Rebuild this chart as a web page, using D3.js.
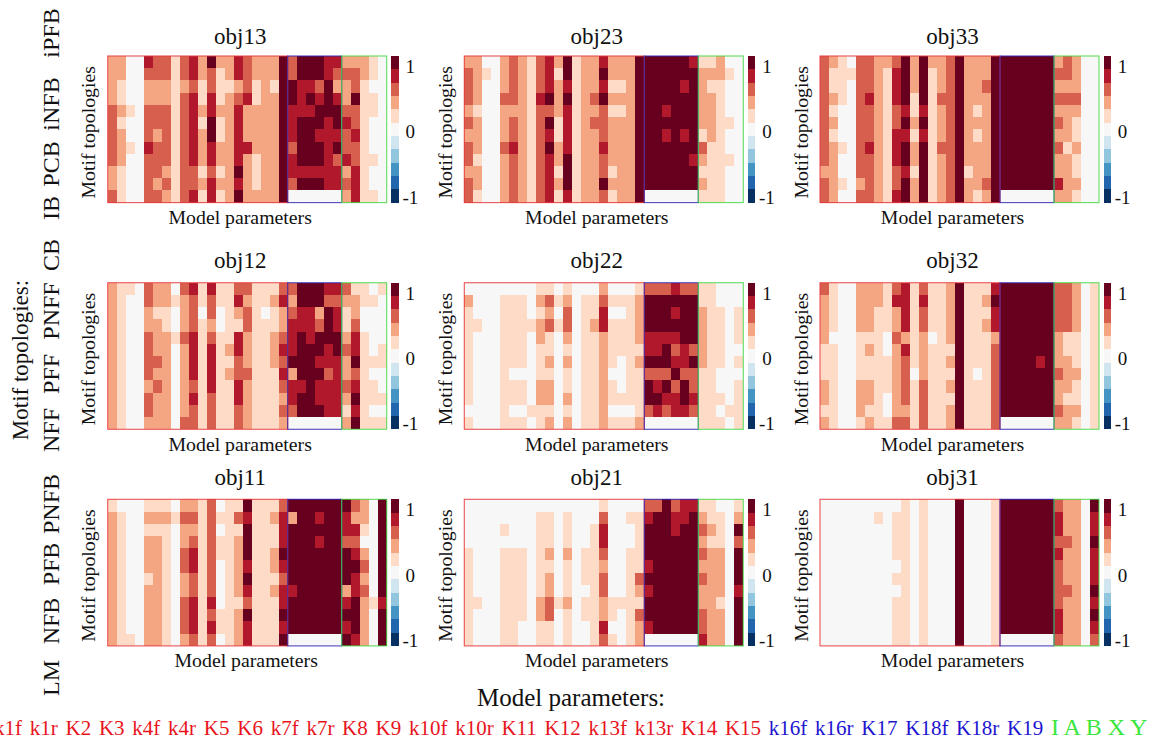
<!DOCTYPE html>
<html>
<head>
<meta charset="utf-8">
<script src="https://cdn.jsdelivr.net/npm/d3@7"></script>
<style>
  body { margin: 0; background: #fff; }
  text { font-family: "Liberation Serif", serif; fill: #111; }
</style>
</head>
<body>
<div id="chart"></div>
<script>
// names along the bottom of the figure, in column order
const redParams = ["k1f","k1r","K2","K3","k4f","k4r","K5","K6","k7f","k7r","K8","K9","k10f","k10r","K11","K12","k13f","k13r","K14","K15"];
const blueParams = ["k16f","k16r","K17","K18f","K18r","K19"];
const greenParams = ["I","A","B","X","Y"];
const topologies = ["LM","NFB","PFB","PNFB","NFF","PFF","PNFF","CB","IB","PCB","iNFB","iPFB"];
const barTicks = [-1, 0, 1];

// cell values, in steps of 0.2 (5 means 1.0)
const obj13 = [
  [2,2,0,0,4,3,3,1,3,4,2,5,2,2,4,3,2,2,2,5,3,5,5,5,4,4,2,2,2,1,0],
  [2,2,0,0,3,3,3,1,3,4,2,3,1,2,4,3,2,2,2,5,3,5,5,5,4,3,3,3,2,1,0],
  [2,1,0,0,2,2,2,1,2,3,1,3,1,1,2,3,1,2,1,5,5,4,4,3,5,2,2,3,1,0,0],
  [2,1,0,0,2,2,2,1,3,4,1,4,1,2,3,4,1,2,2,5,5,4,5,4,5,4,2,5,1,1,0],
  [3,2,1,0,3,3,3,1,3,4,2,4,2,2,4,2,2,2,2,5,4,4,4,5,5,5,3,3,1,1,0],
  [3,1,0,0,3,3,3,1,3,4,1,5,1,2,4,2,2,2,2,5,4,5,5,5,4,5,4,3,1,0,0],
  [3,2,0,0,3,2,3,1,3,4,2,5,1,2,4,2,2,2,2,5,4,5,5,4,4,4,3,4,1,0,0],
  [3,2,1,0,4,3,3,1,3,4,2,4,2,2,4,4,2,2,2,5,3,5,5,5,4,5,3,3,1,0,0],
  [3,2,0,0,3,3,3,1,3,4,2,4,2,2,4,2,1,2,2,5,4,5,5,5,4,3,4,3,1,1,0],
  [2,1,0,0,3,3,2,1,3,3,1,3,1,2,5,2,1,2,2,5,4,4,4,4,4,4,2,4,1,0,0],
  [2,1,0,0,3,2,3,1,3,3,2,4,2,2,4,2,1,2,2,5,3,5,5,5,4,4,3,4,1,0,0],
  [3,1,0,0,3,3,2,1,3,4,1,4,1,2,5,2,2,2,2,5,0,0,0,0,0,0,2,4,1,1,0]
];
const obj23 = [
  [2,2,0,0,2,3,2,1,3,4,2,5,1,2,2,4,2,2,2,5,5,5,5,5,5,4,1,1,2,0,0],
  [3,2,1,0,2,3,2,1,3,4,1,5,1,2,2,5,2,2,2,5,5,5,5,5,5,5,2,2,2,1,0],
  [3,2,0,0,2,3,2,1,3,4,2,4,1,2,2,4,1,1,2,5,5,5,5,5,4,5,2,1,1,0,0],
  [3,2,0,0,3,3,2,1,4,5,2,5,1,2,3,5,2,2,2,5,5,5,5,5,5,5,2,2,1,0,0],
  [2,1,0,0,2,2,2,1,3,3,2,4,1,2,2,3,1,1,2,5,5,5,4,5,5,5,2,2,1,0,0],
  [3,2,0,0,2,3,2,1,3,5,1,4,1,2,3,3,2,2,2,5,5,5,5,5,5,5,2,2,1,1,0],
  [2,2,0,0,2,3,2,1,3,4,1,4,1,2,2,3,2,2,2,5,5,5,4,5,4,5,1,2,1,0,0],
  [3,2,0,0,3,4,2,1,3,5,2,4,1,2,2,4,2,2,2,5,5,5,5,5,5,5,3,1,1,0,0],
  [3,1,0,0,2,3,2,1,3,4,2,5,1,2,2,3,2,2,2,5,5,5,5,5,5,4,2,1,1,1,0],
  [2,2,0,0,2,3,2,1,3,4,1,5,1,2,2,3,1,2,2,5,5,5,5,5,5,5,1,1,1,0,0],
  [3,2,0,0,2,3,2,1,3,4,2,5,1,2,2,5,2,2,2,5,5,5,5,5,5,5,2,1,1,0,0],
  [3,1,0,0,2,3,2,1,3,4,1,4,1,2,2,3,1,2,2,5,0,0,0,0,0,0,1,1,1,0,0]
];
const obj33 = [
  [3,2,1,0,3,3,2,2,3,5,2,5,2,2,3,5,2,2,2,5,5,5,5,5,5,5,2,3,2,0,0],
  [3,1,1,1,3,3,2,1,4,5,2,5,1,2,3,5,2,2,2,5,5,5,5,5,5,5,3,3,2,0,0],
  [3,1,1,0,3,3,2,1,4,5,2,5,1,2,3,5,2,2,3,5,5,5,5,5,5,5,2,2,2,0,0],
  [3,2,1,0,3,4,2,1,4,5,1,5,1,3,3,5,2,2,2,5,5,5,5,5,5,5,3,3,3,0,0],
  [3,1,0,0,3,3,2,1,3,4,1,4,1,2,3,5,2,1,2,5,5,5,5,5,5,5,2,2,2,0,0],
  [3,2,0,0,3,3,2,1,3,5,2,5,1,2,3,5,2,2,2,5,5,5,5,5,5,5,3,2,1,0,0],
  [3,1,0,0,3,3,2,1,4,4,1,4,1,2,3,5,2,1,2,5,5,5,5,5,5,5,2,2,1,0,0],
  [3,2,1,0,3,4,2,1,4,5,2,5,1,3,3,5,2,2,2,5,5,5,5,5,5,5,3,1,2,0,0],
  [3,2,0,0,3,3,2,1,4,5,2,5,1,2,3,5,2,2,2,5,5,5,5,5,5,5,2,2,1,0,0],
  [2,2,0,0,3,3,2,1,3,4,1,5,1,2,3,5,1,2,2,5,5,5,5,5,5,5,2,2,1,0,0],
  [3,2,1,0,2,3,2,1,3,5,2,5,1,2,3,5,2,2,3,5,5,5,5,5,5,5,4,2,2,0,0],
  [3,2,0,0,3,3,2,1,4,5,2,5,1,2,3,5,2,1,2,5,0,0,0,0,0,0,2,2,1,0,0]
];
const obj12 = [
  [2,1,1,0,3,2,2,0,3,4,1,4,1,1,3,3,1,1,1,3,3,5,5,5,4,4,3,1,1,0,1],
  [2,1,0,0,3,2,2,1,2,3,1,3,1,1,4,2,1,1,2,4,2,5,5,5,3,3,2,2,1,1,0],
  [2,1,0,0,2,1,1,0,2,3,0,3,0,1,2,3,1,0,1,2,3,4,4,2,5,4,1,2,0,0,0],
  [2,1,0,0,2,2,1,0,2,3,1,2,0,1,1,3,1,1,1,2,4,4,4,3,5,4,1,3,0,0,0],
  [2,1,0,0,3,2,2,1,3,4,1,3,1,1,4,2,1,1,2,3,4,5,4,5,5,5,2,4,1,0,0],
  [2,1,0,0,3,2,2,0,2,4,1,4,1,2,4,2,1,1,2,4,4,5,5,5,4,5,3,4,1,0,1],
  [2,1,0,0,3,3,2,0,2,4,1,4,1,1,3,2,1,1,2,3,5,5,5,4,4,4,2,5,1,1,1],
  [2,1,0,0,3,2,2,0,2,4,1,4,1,2,3,3,1,1,1,4,2,5,5,5,3,4,2,3,1,0,0],
  [2,1,0,0,2,3,2,0,2,3,1,4,1,1,4,2,1,1,1,3,4,4,5,4,4,4,3,4,1,1,0],
  [2,1,0,0,3,2,2,0,2,4,1,3,1,1,4,2,1,1,1,2,4,5,5,4,4,4,2,5,1,1,1],
  [2,1,0,0,3,2,2,0,2,3,1,3,1,1,3,2,1,1,1,3,3,5,5,5,4,4,1,4,1,0,0],
  [2,1,0,0,2,2,2,0,3,3,1,3,1,1,3,2,1,1,1,2,0,0,0,0,0,0,2,5,1,1,1]
];
const obj22 = [
  [0,0,0,0,0,0,0,0,1,1,0,1,0,0,0,2,0,0,0,1,3,3,3,4,3,3,1,1,0,0,0],
  [2,0,0,0,1,1,1,0,2,3,1,2,0,1,1,3,1,1,1,2,5,5,5,5,5,5,1,1,0,0,0],
  [1,0,0,0,1,1,1,0,1,2,0,3,0,1,1,4,0,0,1,2,5,5,5,4,5,5,2,1,1,0,1],
  [1,1,0,0,1,1,1,1,2,3,1,3,0,1,2,4,1,1,1,2,5,5,5,5,5,5,2,1,1,0,1],
  [1,0,0,0,1,1,1,0,2,1,0,2,0,1,1,2,1,1,1,2,4,4,4,4,5,5,2,1,1,0,1],
  [1,0,0,0,1,1,1,0,1,1,0,1,0,1,1,2,1,1,1,1,4,4,5,3,4,3,2,1,1,0,0],
  [1,0,0,0,1,1,1,0,1,2,0,2,0,1,1,2,1,0,1,2,5,5,5,4,4,5,2,1,1,0,1],
  [1,0,0,0,1,0,0,0,1,1,0,1,0,1,1,2,0,0,1,1,3,3,3,5,3,3,1,1,0,0,0],
  [1,0,0,0,1,1,1,0,2,2,0,1,0,1,1,2,1,0,1,1,5,4,5,3,5,3,1,1,0,0,1],
  [1,0,0,0,1,1,1,0,2,2,0,2,0,1,1,2,1,1,1,1,5,5,4,4,5,4,1,1,1,0,1],
  [0,0,0,0,1,0,0,1,1,1,0,1,0,1,1,2,0,0,0,1,3,4,3,4,4,3,1,1,0,1,1],
  [1,0,0,0,1,1,1,0,1,2,0,2,0,1,1,2,1,1,1,2,0,0,0,0,0,0,1,1,1,0,1]
];
const obj32 = [
  [3,1,0,0,2,2,2,1,3,4,1,3,1,1,2,5,1,1,1,4,5,5,5,5,5,5,3,3,2,0,1],
  [2,1,0,0,2,2,2,1,4,4,1,4,1,1,2,5,1,1,2,5,5,5,5,5,5,5,3,3,2,0,1],
  [2,1,0,0,2,2,1,1,2,4,1,3,1,1,2,5,1,1,1,4,5,5,5,5,5,5,3,3,2,0,1],
  [2,1,0,0,2,2,1,1,2,4,1,3,1,1,2,5,1,1,2,4,5,5,5,5,5,5,3,3,2,0,1],
  [2,0,0,0,1,1,1,0,3,2,1,2,0,1,2,5,1,1,1,2,5,5,5,5,5,5,2,1,1,0,1],
  [1,1,0,0,1,2,1,0,2,4,1,2,1,1,1,5,1,1,1,3,5,5,5,5,5,5,2,1,1,0,1],
  [1,1,0,0,1,1,1,1,2,3,1,2,1,1,2,5,1,1,1,3,5,5,5,5,4,5,2,2,1,0,1],
  [1,1,0,0,1,1,1,1,2,3,0,2,1,1,1,5,1,0,1,3,5,5,5,5,5,5,3,2,2,0,1],
  [2,1,0,0,2,2,1,1,2,3,1,3,1,1,2,5,1,1,1,3,5,5,5,5,5,5,2,2,1,0,1],
  [2,1,0,0,2,2,1,0,2,3,1,3,1,1,1,5,1,1,1,3,5,5,5,5,5,5,2,1,1,0,1],
  [1,1,0,0,2,1,1,0,2,2,1,3,1,1,2,5,1,1,1,3,5,5,5,5,5,5,3,2,2,0,1],
  [2,1,0,0,1,2,1,1,3,3,1,3,1,1,2,5,1,1,1,3,0,0,0,0,0,0,2,2,1,0,1]
];
const obj11 = [
  [1,0,0,0,1,1,1,0,2,2,1,3,0,1,1,5,1,1,1,3,5,5,5,5,5,5,5,3,2,0,5],
  [2,1,0,0,2,2,2,1,3,3,1,3,1,1,3,4,1,1,2,4,2,5,5,4,5,5,4,2,2,0,5],
  [2,1,0,0,1,1,1,0,2,2,1,3,0,1,1,5,1,1,1,4,5,5,5,5,5,5,4,4,1,0,5],
  [2,1,0,0,2,2,1,0,2,3,1,3,1,1,2,5,1,1,1,4,5,5,5,4,5,5,3,3,0,0,5],
  [2,1,0,0,2,2,1,0,3,4,1,3,1,1,2,5,1,1,2,5,5,5,5,5,5,5,5,4,2,0,5],
  [2,1,0,0,2,2,1,0,3,4,1,3,0,1,2,4,1,1,2,4,5,5,5,5,5,5,5,5,3,0,5],
  [2,1,0,0,1,2,1,0,2,3,1,3,0,1,2,5,1,1,1,3,5,5,5,5,5,5,5,4,2,0,5],
  [2,1,0,0,2,2,1,0,2,3,1,3,0,1,2,4,1,1,2,4,4,5,5,5,5,5,2,4,3,0,5],
  [2,1,0,0,2,2,1,0,3,4,1,4,0,1,1,3,1,1,1,4,5,5,5,5,5,5,4,5,2,1,4],
  [2,1,0,0,2,2,1,0,3,4,1,3,1,1,2,5,1,1,1,5,5,5,5,5,5,5,5,5,2,0,5],
  [2,1,0,0,2,2,1,0,3,4,1,4,1,1,2,4,1,1,1,4,5,5,5,5,5,5,4,5,2,0,5],
  [2,1,1,0,2,2,1,0,2,3,1,3,0,1,2,4,1,1,1,5,0,0,0,0,0,0,5,4,2,0,5]
];
const obj21 = [
  [0,0,0,0,0,0,0,0,0,0,0,0,0,0,0,1,0,0,0,0,3,3,5,3,4,4,1,1,0,0,1],
  [0,0,0,0,0,0,0,0,1,1,0,1,0,0,0,3,0,0,1,1,4,5,5,4,4,5,2,1,1,0,2],
  [0,0,0,0,1,0,0,0,1,1,0,1,0,0,1,4,0,0,0,1,5,5,5,4,5,5,3,2,1,0,5],
  [0,0,0,0,0,0,0,0,1,1,0,1,0,0,1,4,0,0,0,1,5,5,5,5,5,5,2,1,1,0,3],
  [1,0,0,0,1,1,1,0,1,2,0,2,0,1,1,3,0,0,1,1,5,5,5,5,5,5,3,2,2,0,5],
  [1,0,0,0,1,1,1,0,1,1,0,1,0,1,1,2,0,0,1,1,4,5,5,5,5,5,2,2,2,0,5],
  [1,0,0,0,1,1,1,0,1,2,0,1,0,1,1,3,0,0,1,3,5,5,5,5,5,5,3,2,2,0,5],
  [1,0,0,0,1,1,1,0,1,2,0,1,0,0,1,3,0,0,1,2,4,5,5,5,5,5,2,2,2,0,4],
  [1,1,0,0,1,1,1,0,2,3,1,2,0,1,1,2,1,1,1,1,5,5,5,5,5,5,2,2,1,0,5],
  [1,0,0,0,1,1,1,0,2,3,0,1,0,1,1,2,1,0,1,3,5,5,5,5,5,5,3,2,2,0,5],
  [1,0,0,0,1,1,0,0,1,1,0,1,0,0,1,4,0,0,1,2,4,5,5,5,5,5,3,2,2,0,5],
  [1,0,0,0,1,1,0,0,1,1,0,1,0,0,1,3,1,0,1,2,0,0,0,0,0,0,4,2,2,0,5]
];
const obj31 = [
  [0,0,0,0,0,0,0,0,0,1,0,1,0,0,0,5,0,0,0,1,5,5,5,5,5,5,3,2,2,0,5],
  [0,0,0,0,0,0,1,0,1,1,0,1,0,0,0,5,0,0,0,1,5,5,5,5,5,5,4,2,2,0,4],
  [0,0,0,0,0,0,0,0,1,1,0,1,0,0,0,5,0,0,0,1,5,5,5,5,5,5,4,2,2,0,4],
  [0,0,0,0,0,0,0,0,1,1,0,1,0,0,0,5,0,0,0,1,5,5,5,5,5,5,3,3,2,0,5],
  [0,0,0,0,0,0,0,0,1,1,0,1,0,0,0,5,0,0,0,1,5,5,5,5,5,5,4,2,2,0,4],
  [0,0,0,0,0,0,0,0,0,1,0,1,0,0,0,5,0,0,0,1,5,5,5,5,5,5,3,2,2,0,4],
  [0,0,0,0,0,0,0,0,1,1,0,1,0,0,0,5,0,0,0,1,5,5,5,5,5,5,3,2,2,0,4],
  [0,0,0,0,0,0,0,0,0,1,0,1,0,0,0,5,0,0,0,1,5,5,5,5,5,5,3,3,2,0,5],
  [0,0,0,0,0,0,0,0,1,1,0,1,0,0,0,5,0,0,0,1,5,5,5,5,5,5,3,2,2,0,4],
  [0,0,0,0,0,0,0,0,1,1,0,1,0,0,0,5,0,0,0,1,5,5,5,5,5,5,4,2,2,0,5],
  [0,0,0,0,0,0,0,0,1,1,0,1,0,0,0,5,0,0,0,1,5,5,5,5,5,5,4,2,2,0,4],
  [0,0,0,0,0,0,0,0,1,1,0,1,0,0,0,5,0,0,0,1,0,0,0,0,0,0,3,2,2,0,3]
];

const width = 1154, height = 742;
const params = redParams.concat(blueParams, greenParams);

// panels read left to right, top to bottom
const panels = [
  { name: "obj13", data: obj13, col: 0, row: 0 },
  { name: "obj23", data: obj23, col: 1, row: 0 },
  { name: "obj33", data: obj33, col: 2, row: 0 },
  { name: "obj12", data: obj12, col: 0, row: 1 },
  { name: "obj22", data: obj22, col: 1, row: 1 },
  { name: "obj32", data: obj32, col: 2, row: 1 },
  { name: "obj11", data: obj11, col: 0, row: 2 },
  { name: "obj21", data: obj21, col: 1, row: 2 },
  { name: "obj31", data: obj31, col: 2, row: 2 }
];

const panelX = [107.7, 464.3, 820];
const panelY = [56, 282.7, 499.3];
const titleGap = [12, 14.5, 14];
const panelW = 279, panelH = 146.6;
const labelSize = 19.8;

const svg = d3.select("#chart").append("svg")
  .attr("width", width)
  .attr("height", height)
  .style("display", "block");

// the bar is a bit longer above 1 than below -1
const barDomain = [-1.085, 1.16];
const color = d3.scaleQuantize()
  .domain(barDomain)
  .range(d3.schemeRdBu[11].slice().reverse());

const x = d3.scaleBand().domain(d3.range(params.length)).range([0, panelW]);
const y = d3.scaleBand().domain(d3.range(topologies.length)).range([0, panelH]);
const barY = d3.scaleLinear().domain(barDomain).range([panelH, 0]);
const barSteps = color.range().map(c => color.invertExtent(c));

panels.forEach(p => {
  const g = svg.append("g")
    .attr("transform", `translate(${panelX[p.col]},${panelY[p.row]})`);

  g.selectAll(".line")
    .data(p.data)
    .enter().append("g")
    .attr("transform", (d, i) => `translate(0,${y(i)})`)
    .selectAll("rect")
    .data(d => d)
    .enter().append("rect")
    .attr("x", (d, i) => x(i))
    .attr("width", x.bandwidth())
    .attr("height", y.bandwidth())
    .attr("shape-rendering", "crispEdges")
    .attr("fill", d => color(d / 5));

  // boxes around the three parameter groups
  const groups = [
    { from: 0, n: redParams.length, stroke: "#e8383c" },
    { from: redParams.length, n: blueParams.length, stroke: "#3428b4" },
    { from: redParams.length + blueParams.length, n: greenParams.length, stroke: "#45d945" }
  ];
  g.selectAll(".box")
    .data(groups)
    .enter().append("rect")
    .attr("class", "box")
    .attr("x", d => x(d.from))
    .attr("width", d => x.step() * d.n)
    .attr("height", panelH)
    .attr("fill", "none")
    .attr("stroke", d => d.stroke)
    .attr("stroke-opacity", 0.85)
    .attr("stroke-width", 1.1);

  // colour bar
  const bar = g.append("g").attr("transform", `translate(${panelW + 4.6},0)`);
  bar.selectAll("rect")
    .data(barSteps)
    .enter().append("rect")
    .attr("y", d => barY(d[1]))
    .attr("width", 7.5)
    .attr("height", d => barY(d[0]) - barY(d[1]))
    .attr("shape-rendering", "crispEdges")
    .attr("fill", d => color((d[0] + d[1]) / 2));

  const axis = d3.axisRight(barY).tickValues(barTicks).tickSize(0).tickPadding(0).tickFormat(String);
  const axisG = bar.append("g").attr("transform", "translate(19,0)").call(axis);
  axisG.select(".domain").remove();
  axisG.selectAll("text")
    .attr("text-anchor", "middle")
    .style("font-family", '"Liberation Serif", serif')
    .style("font-size", "19px");

  // titles and labels sit a little left of the panel centre
  const cx = panelW / 2 - 7;
  g.append("text")
    .attr("x", cx)
    .attr("y", -titleGap[p.row])
    .attr("text-anchor", "middle")
    .style("font-size", "23px")
    .text(p.name);

  g.append("text")
    .attr("x", p.name === "obj11" ? cx + 6 : cx)
    .attr("y", panelH + 21.5)
    .attr("text-anchor", "middle")
    .style("font-size", labelSize + "px")
    .text("Model parameters");

  g.append("text")
    .attr("transform", `translate(-12.5,${panelH / 2 + 3}) rotate(-90)`)
    .attr("text-anchor", "middle")
    .style("font-size", labelSize + "px")
    .text("Motif topologies");
});

// left side list of topologies, one rotated label per name
const topoY = [678, 621, 564, 504, 430, 374, 311, 255, 208, 164, 104, 33];
svg.selectAll(".topo")
  .data(topologies)
  .enter().append("text")
  .attr("class", "topo")
  .attr("transform", (d, i) => `translate(59,${topoY[i]}) rotate(-90)`)
  .attr("text-anchor", "middle")
  .style("font-size", "24px")
  .text(d => d);

svg.append("text")
  .attr("transform", "translate(28,360) rotate(-90)")
  .attr("text-anchor", "middle")
  .style("font-size", "23px")
  .text("Motif topologies:");

svg.append("text")
  .attr("x", 571)
  .attr("y", 706)
  .attr("text-anchor", "middle")
  .style("font-size", "25px")
  .text("Model parameters:");

// bottom list of parameters, coloured by group (k1f runs off the left edge, as in the original)
const paramLine = svg.append("text")
  .attr("x", -6)
  .attr("y", 735)
  .style("font-size", "21px")
  .style("word-spacing", "2.5px");
const paramColors = [
  { names: redParams, fill: "#e8141c", size: 21, spacing: 2.5 },
  { names: blueParams, fill: "#1c14d0", size: 21, spacing: 2.5 },
  { names: greenParams, fill: "#3ce63c", size: 24, spacing: 0 }
];
paramColors.forEach(grp => {
  paramLine.append("tspan")
    .style("fill", grp.fill)
    .style("font-size", grp.size + "px")
    .style("word-spacing", grp.spacing + "px")
    .text(grp.names.join(" ") + " ");
});
</script>
</body>
</html>
